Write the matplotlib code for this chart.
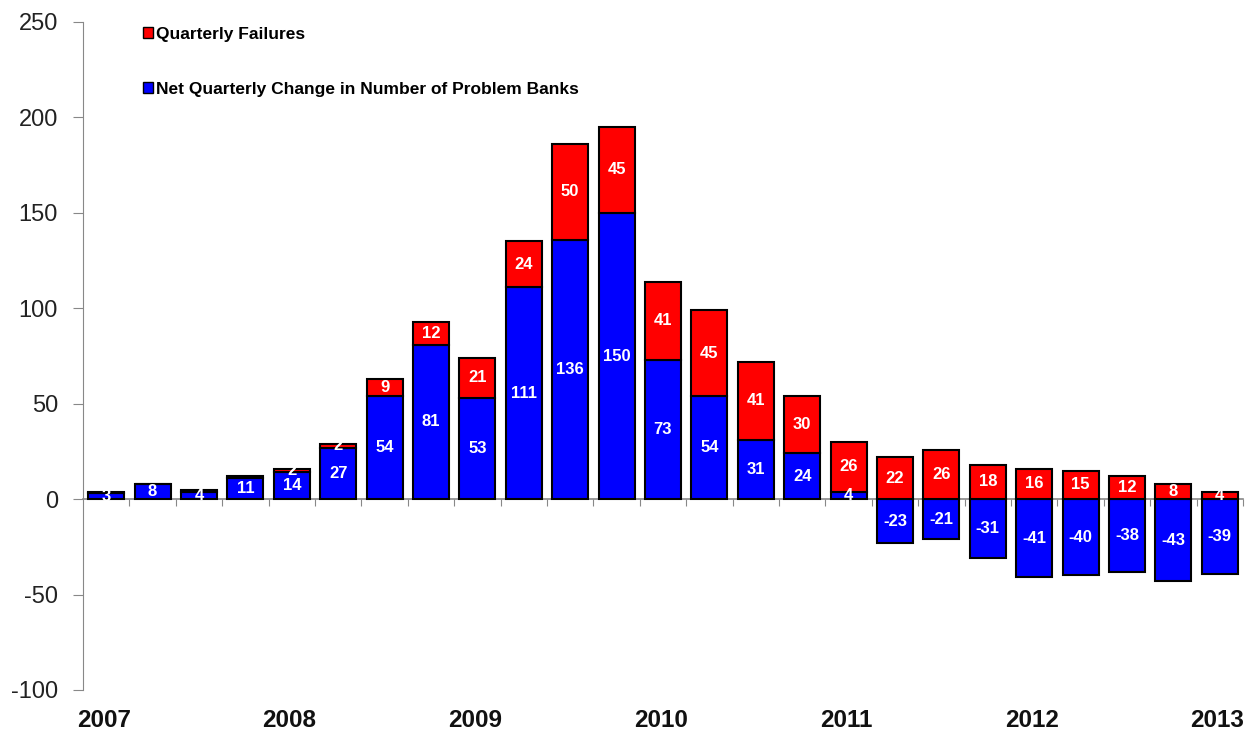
import matplotlib
matplotlib.use("Agg")
import matplotlib.pyplot as plt
import matplotlib.patches as mpatches
import matplotlib.transforms as mtransforms
import numpy as np

plt.rcParams['font.family'] = ['Liberation Sans', 'DejaVu Sans']
plt.rcParams['axes.unicode_minus'] = False

# quarterly data, 2007 Q1 .. 2013 Q1
net_change = [3, 8, 4, 11, 14, 27, 54, 81, 53, 111, 136, 150, 73, 54, 31, 24,
              4, -23, -21, -31, -41, -40, -38, -43, -39]
failures = [1, 0, 1, 1, 2, 2, 9, 12, 21, 24, 50, 45, 41, 45, 41, 30,
            26, 22, 26, 18, 16, 15, 12, 8, 4]
years = ['2007', '2008', '2009', '2010', '2011', '2012', '2013']

fig = plt.figure(figsize=(12.59, 7.35), dpi=100)
ax = fig.add_axes([83/1259, 1 - 690/735, (1243 - 83)/1259, (690 - 22)/735])

x = np.arange(len(net_change))
blue = np.array(net_change)
red = np.array(failures)
red_bottom = np.maximum(blue, 0)

ax.bar(x, blue, width=0.78, color='#0000FF', edgecolor='black', linewidth=1.5, zorder=3)
ax.bar(x, red, bottom=red_bottom, width=0.78, color='#FF0000', edgecolor='black',
       linewidth=1.5, zorder=3)

lab = dict(color='white', fontsize=12, fontweight='bold', ha='center', va='center', zorder=4)
for i in x:
    ax.text(i, blue[i] / 2, str(blue[i]), **lab)
    if red[i] >= 2:
        ax.text(i, red_bottom[i] + red[i] / 2, str(red[i]), **lab)

ax.set_xlim(-0.5, len(x) - 0.5)
ax.set_ylim(-100, 250)
ax.set_yticks(np.arange(-100, 251, 50))
ax.tick_params(axis='y', labelsize=17, length=7, color='#888888', labelcolor='#222222', pad=11)

for s in ['top', 'right']:
    ax.spines[s].set_visible(False)
ax.spines['left'].set_color('#888888')
ax.spines['bottom'].set_position(('data', 0))
ax.spines['bottom'].set_color('#888888')
ax.spines['bottom'].set_linewidth(1.2)
ax.set_xticks(np.arange(0.5, len(x) - 0.5 + 1e-9, 1.0))
ax.set_xticklabels([])
ax.tick_params(axis='x', direction='out', length=5, color='#888888')

trans = mtransforms.blended_transform_factory(ax.transData, ax.transAxes)
for k, yr in enumerate(years):
    ax.text(k * 4 - 0.05, -0.046, yr, transform=trans, ha='center', va='center',
            fontsize=17.5, fontweight='bold', color='#111111')

red_patch = mpatches.Patch(facecolor='#FF0000', edgecolor='black', label='Quarterly Failures')
blue_patch = mpatches.Patch(facecolor='#0000FF', edgecolor='black',
                            label='Net Quarterly Change in Number of Problem Banks')
ax.legend(handles=[red_patch, blue_patch], loc='upper left',
          bbox_to_anchor=(127/1259, 1 - 11/735), bbox_transform=fig.transFigure,
          frameon=False, prop={'size': 12.5, 'weight': 'bold'},
          handlelength=0.6, handleheight=0.6, handletextpad=0.15, labelspacing=2.3)

fig.savefig('out.png', dpi=100)
